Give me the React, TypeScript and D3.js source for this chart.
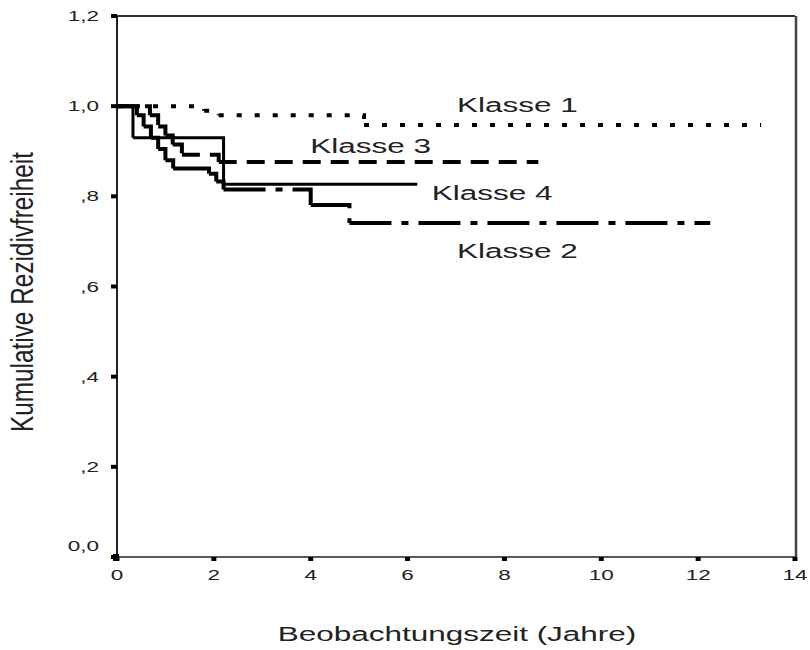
import React from 'react';
import * as d3 from 'd3';

// Kaplan-Meier steps: [Jahre, kumulative Rezidivfreiheit]
const klasse1 = [
  [0, 1], [1.8, 0.99], [2.1, 0.98], [5.1, 0.958], [13.3, 0.958],
];
const klasse2 = [
  [0, 1], [0.41, 0.98], [0.55, 0.955], [0.7, 0.93], [0.85, 0.905], [1.0, 0.88],
  [1.16, 0.862], [1.9, 0.85], [2.05, 0.833], [2.2, 0.815], [4.0, 0.781],
  [4.8, 0.741], [12.25, 0.741],
];
const klasse3 = [
  [0, 1], [0.68, 0.98], [0.85, 0.955], [1.0, 0.935], [1.15, 0.915], [1.34, 0.892],
  [2.1, 0.876], [8.7, 0.876],
];
const klasse4 = [
  [0, 1], [0.33, 0.93], [2.2, 0.827], [6.2, 0.827],
];

const seriesNames = ['Klasse 1', 'Klasse 2', 'Klasse 3', 'Klasse 4'];
const xTicks = [0, 2, 4, 6, 8, 10, 12, 14];
const yTicks = [0, 0.2, 0.4, 0.6, 0.8, 1.0, 1.2];
const yTickLabels = ['0,0', ',2', ',4', ',6', ',8', '1,0', '1,2'];

const W = 810;
const H = 650;
const FONT = "'Liberation Sans', Arial, sans-serif";
const SX = 1.5; // the picture is stretched sideways

export default function App() {
  const x = d3.scaleLinear().domain([0, 14]).range([117, 795]);
  const y = d3.scaleLinear().domain([0, 1.2]).range([557, 16]);

  const line = d3
    .line<number[]>()
    .x(d => x(d[0]))
    .y(d => y(d[1]))
    .curve(d3.curveStepAfter);

  const series = [
    { name: seriesNames[0], data: klasse1, dash: '5 13', width: 4, label: [7.02, 0.987] },
    { name: seriesNames[1], data: klasse2, dash: '42 10 7 10', width: 4, label: [7.02, 0.663] },
    { name: seriesNames[2], data: klasse3, dash: '18 10', width: 4, label: [3.99, 0.896] },
    { name: seriesNames[3], data: klasse4, dash: null, width: 3, label: [6.5, 0.792] },
  ];

  const stretched = (tx: number, ty: number, size: number, anchor: string, text: string, key?: string) => (
    <text
      key={key}
      transform={`translate(${tx},${ty}) scale(${SX},1)`}
      fontSize={size}
      fontFamily={FONT}
      textAnchor={anchor}
      fill="#222"
    >
      {text}
    </text>
  );

  return (
    <svg
      width={W}
      height={H}
      style={{ position: 'absolute', left: 0, top: 0, background: '#fff' }}
    >
      {/* frame */}
      <line x1={x(0)} x2={x(14)} y1={y(1.2)} y2={y(1.2)} stroke="#333" strokeWidth={2} />
      <line x1={x(14) + 1} x2={x(14) + 1} y1={y(1.2)} y2={y(0)} stroke="#444" strokeWidth={2.5} />
      <line x1={x(0)} x2={x(14)} y1={y(0)} y2={y(0)} stroke="#222" strokeWidth={1.5} />
      <line x1={x(0)} x2={x(0)} y1={y(1.2)} y2={y(0)} stroke="#222" strokeWidth={2} />

      {/* y ticks */}
      {yTicks.map((t, i) => (
        <g key={'y' + t}>
          <rect x={x(0) - 6} y={y(t) - 2} width={6} height={4} fill="#000" />
          {stretched(99, y(t) + (t === 0 ? -6 : 5), 15, 'end', yTickLabels[i])}
        </g>
      ))}

      {/* x ticks */}
      {xTicks.map(t => (
        <g key={'x' + t}>
          <rect x={x(t) - 2.5} y={y(0)} width={5} height={4} fill="#000" />
          {stretched(x(t), 580, 15, 'middle', String(t))}
        </g>
      ))}
      <rect x={x(0) - 4} y={y(0) - 3} width={6} height={7} fill="#000" />

      {/* curves: one path per step so the dash pattern restarts, as in SPSS */}
      {series.map(s => (
        <g key={s.name}>
          {d3.pairs(s.data).map((p, i) => (
            <path
              key={i}
              d={line(p) || ''}
              fill="none"
              stroke="#000"
              strokeWidth={s.width}
              strokeDasharray={s.dash || undefined}
              strokeLinejoin="miter"
            />
          ))}
        </g>
      ))}

      {/* curve labels */}
      {series.map(s => stretched(x(s.label[0]), y(s.label[1]), 21, 'start', s.name, 'l' + s.name))}

      {/* axis titles */}
      {stretched(457, 641, 21, 'middle', 'Beobachtungszeit (Jahre)')}
      <text
        transform={`translate(33,292) scale(${SX},1) rotate(-90)`}
        fontSize={21}
        fontFamily={FONT}
        textAnchor="middle"
        textLength={280}
        lengthAdjust="spacingAndGlyphs"
        fill="#222"
      >
        Kumulative Rezidivfreiheit
      </text>
    </svg>
  );
}
